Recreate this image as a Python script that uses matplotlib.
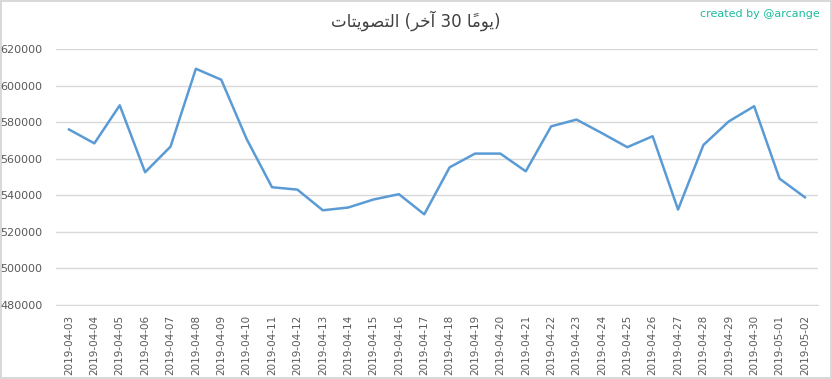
import numpy as np
import matplotlib.pyplot as plt

# dates and vote counts (last 30 days)
dates = ['2019-04-03', '2019-04-04', '2019-04-05', '2019-04-06', '2019-04-07',
         '2019-04-08', '2019-04-09', '2019-04-10', '2019-04-11', '2019-04-12',
         '2019-04-13', '2019-04-14', '2019-04-15', '2019-04-16', '2019-04-17',
         '2019-04-18', '2019-04-19', '2019-04-20', '2019-04-21', '2019-04-22',
         '2019-04-23', '2019-04-24', '2019-04-25', '2019-04-26', '2019-04-27',
         '2019-04-28', '2019-04-29', '2019-04-30', '2019-05-01', '2019-05-02']
votes = [576000, 568400, 589200, 552600, 566600,
         609200, 603200, 570800, 544400, 543100,
         531800, 533300, 537700, 540600, 529600,
         555300, 562800, 562800, 553100, 577700,
         581400, 574000, 566300, 572300, 532200,
         567500, 580400, 588700, 549100, 538900]
yticks = [480000, 500000, 520000, 540000, 560000, 580000, 600000, 620000]

# title "التصويتات (آخر 30 يومًا)" written with shaped presentation forms in display order
w1 = '\uFE95\uFE8E\uFE98\uFEF3\uFEEE\uFEBC\uFE98\uFEDF\uFE8D'
w2 = '\uFEAE\uFEA7\uFE81'
w3 = '\uFE8E\u064B\uFEE3\uFEEE\uFEF3'
title = w1 + ' (' + w2 + ' 30 ' + w3 + ')'

fig = plt.figure(figsize=(8.32, 3.79), dpi=100)
fig.patch.set_facecolor('white')
fig.patch.set_edgecolor('#d9d9d9')
fig.patch.set_linewidth(1.5)

ax = fig.add_axes([56.3 / 832, 1 - 305 / 379, 761.3 / 832, 256 / 379])
x = np.arange(len(dates))
ax.plot(x, votes, color='#5b9bd5', linewidth=1.8)

ax.set_xlim(-0.5, len(dates) - 0.5)
ax.set_ylim(480000, 620000)
ax.set_yticks(yticks)
ax.set_yticklabels([str(v) for v in yticks])
ax.set_xticks(x)
ax.set_xticklabels(dates, rotation=90)
ax.grid(axis='y', color='#d9d9d9', linewidth=1)
ax.set_axisbelow(True)
for s in ['top', 'right', 'left']:
    ax.spines[s].set_visible(False)
ax.spines['bottom'].set_color('#d9d9d9')
ax.tick_params(axis='both', length=0, labelcolor='#595959')
ax.tick_params(axis='y', pad=10, labelsize=8)
ax.tick_params(axis='x', pad=7, labelsize=7.5)

fig.text(0.5, 1 - 21 / 379, title, ha='center', va='center', fontsize=12,
         color='#404040', family='DejaVu Sans')
fig.text(0.985, 1 - 14 / 379, 'created by @arcange', ha='right', va='center',
         fontsize=8, color='#1abc9c')

fig.savefig('out.png', dpi=100)
